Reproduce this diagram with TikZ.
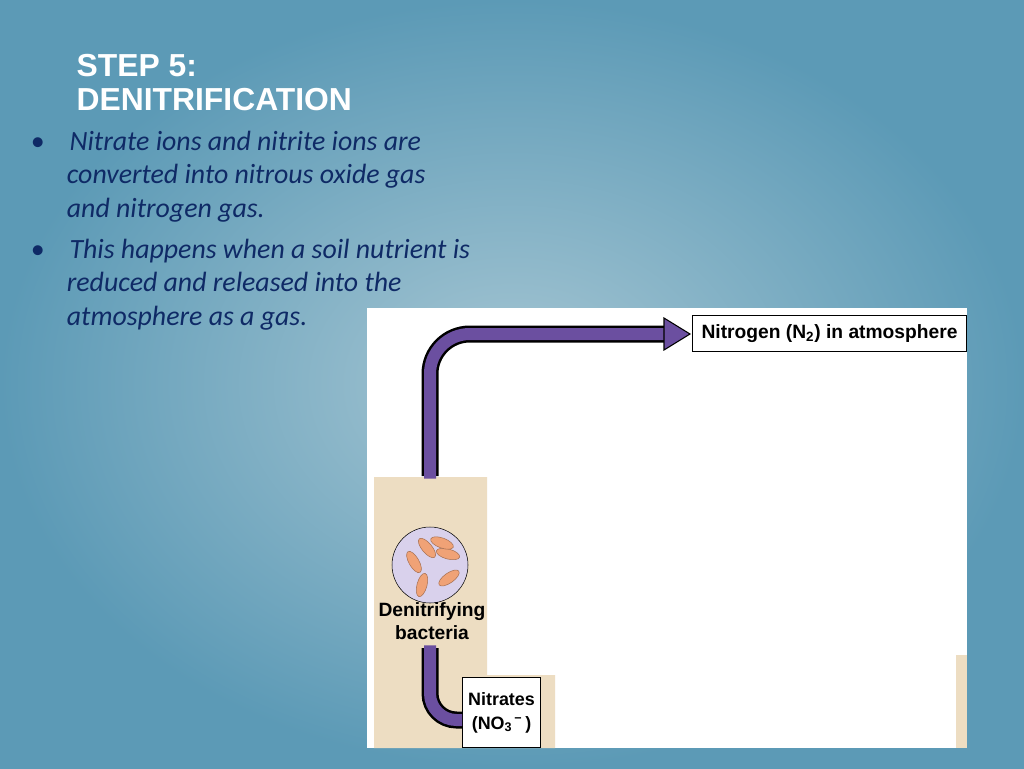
\documentclass[tikz,border=0pt]{standalone}
\usepackage{fontspec}
\setmainfont{Carlito}
\newfontfamily\labelfont{Liberation Sans}
\usetikzlibrary{arrows.meta}
\definecolor{bgmid}{HTML}{A6C6D3}
\definecolor{bgout}{HTML}{5C9AB6}
\definecolor{textblue}{HTML}{0F2A66}
\definecolor{pipe}{HTML}{6B4FA0}
\definecolor{soil}{HTML}{EDDDC2}
\definecolor{cell}{HTML}{D9D1EC}
\definecolor{germ}{HTML}{F0A276}
\tikzset{
  box/.style={draw=black,thick,fill=white,font=\labelfont\bfseries\fontsize{14.5}{17}\selectfont,inner sep=3pt},
  bullet/.style={anchor=north west,text=textblue,align=left,font=\itshape\fontsize{21}{25.6}\selectfont},
  germ/.style={fill=germ,draw=germ!70!black,thin}
}
\begin{document}
\begin{tikzpicture}[x=0.0265cm,y=-0.0265cm]
  \shade[inner color=bgmid,outer color=bgout] (0,0) rectangle (1024,768);
  \useasboundingbox (0,0) rectangle (1024,768);
  % title and bullets
  \node[anchor=north west,text=white,font=\labelfont\bfseries\fontsize{24}{25.5}\selectfont,align=left] (title) at (72,50) {STEP 5:\\DENITRIFICATION};
  \node[bullet] (b1) at (26,126) {\textbullet\hspace{0.9em}Nitrate ions and nitrite ions are\\\hspace{1.3em}converted into nitrous oxide gas\\\hspace{1.3em}and nitrogen gas.};
  \node[bullet] (b2) at (26,234) {\textbullet\hspace{0.9em}This happens when a soil nutrient is\\\hspace{1.3em}reduced and released into the\\\hspace{1.3em}atmosphere as a gas.};
  % figure
  \fill[white] (367,308) rectangle (967,748);
  \fill[soil] (374,477) -- (487,477) -- (487,675) -- (555,675) -- (555,748) -- (374,748) -- cycle;
  \fill[soil] (956,655) rectangle (967,748);
  \node[box,anchor=north west,minimum width=274*0.0265cm,minimum height=36*0.0265cm] (air) at (692,315) {Nitrogen (N\textsubscript{2}) in atmosphere};
  \node[box,anchor=north west,align=center,inner sep=1pt,minimum width=78*0.0265cm,minimum height=70*0.0265cm,font=\labelfont\bfseries\fontsize{13.5}{16}\selectfont] (nitrates) at (462,677) {Nitrates\\[2pt](NO\textsubscript{3}\textsuperscript{\,\textminus}\,)};
  \node[circle,draw=black,fill=cell,minimum size=76*0.0265cm] (bact) at (430,565) {};
  \node[font=\labelfont\bfseries\fontsize{14.5}{17}\selectfont,align=center] (lbl) at (432,621) {Denitrifying\\bacteria};
  \foreach \x/\y/\a in {414/562/-60, 448/554/-15, 449/578/35, 422/585/75, 442/543/-20, 427/548/-50}
    \fill[germ,rotate around={\a:(\x,\y)}] (\x,\y) ellipse (12 and 5);
  % pipes
  \coordinate (up) at (430,476);
  \coordinate (turn) at (665,334);
  \draw[line width=17*0.0265cm,rounded corners=30] (up) -- (430,334) -- (turn);
  \draw[line width=12*0.0265cm,pipe,rounded corners=30] ([yshift=-2]up) -- (430,334) -- ([xshift=2]turn);
  \fill[pipe,draw=black,thick] (664,318) -- (690,334) -- (664,350) -- cycle;
  \coordinate (down) at (430,648);
  \draw[line width=17*0.0265cm,rounded corners=20] (down) -- (430,720) -- (nitrates.west |- 0,720);
  \draw[line width=12*0.0265cm,pipe,rounded corners=20] ([yshift=2]down) -- (430,720) -- (nitrates.west |- 0,720);
\end{tikzpicture}
\end{document}
